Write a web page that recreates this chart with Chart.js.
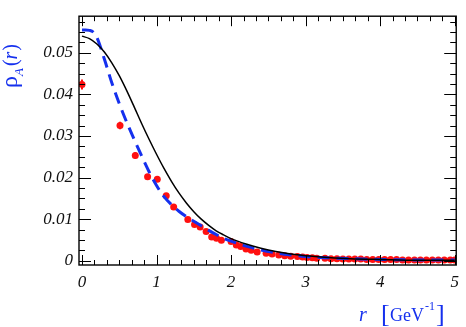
<!DOCTYPE html>
<html>
<head>
<meta charset="utf-8">
<script src="https://cdn.jsdelivr.net/npm/chart.js@4.4.1/dist/chart.umd.min.js"></script>
<style>
  html,body{margin:0;padding:0;background:#fff;}
  #wrap{width:466px;height:327px;}
</style>
</head>
<body>
<div id="wrap"><canvas id="chart"></canvas></div>
<script>
/* ---------- data ---------- */
const xTicks = [0, 1, 2, 3, 4, 5];
const yTicks = [0, 0.01, 0.02, 0.03, 0.04, 0.05];
const xMinorDiv = 6;
const yMinorDiv = 4;

// lattice points (red, with errors)
const dataR = [0, 0.51, 0.715, 0.88, 1.01, 1.13, 1.23, 1.42, 1.51, 1.585, 1.665, 1.74, 1.805, 1.87,
  2.0, 2.07, 2.13, 2.20, 2.27, 2.35, 2.47, 2.55, 2.64, 2.72, 2.80, 2.89, 2.96, 3.02, 3.09, 3.15, 3.26,
  3.34, 3.42, 3.50, 3.58, 3.66, 3.74, 3.82, 3.90, 3.98, 4.06, 4.14, 4.22, 4.30, 4.38, 4.46, 4.54,
  4.62, 4.70, 4.78, 4.86, 4.94, 5.0];
const dataRho = [0.0424, 0.0325, 0.0253, 0.0202, 0.0196, 0.0156, 0.0129, 0.0099, 0.0087, 0.0081, 0.0070, 0.0057, 0.0054, 0.0049,
  0.0046, 0.0038, 0.0034, 0.0028, 0.0025, 0.0021, 0.0018, 0.0016, 0.0014, 0.0012, 0.0011, 0.0010, 0.0009, 0.0008, 0.0007, 0.0006, 0.0006,
  0.0005, 0.0005, 0.0004, 0.0004, 0.0004, 0.0004, 0.0003, 0.0003, 0.0003, 0.0003, 0.0003, 0.0003, 0.0002, 0.0002, 0.0002, 0.0002,
  0.0002, 0.0002, 0.0002, 0.0002, 0.0002, 0.0002];
const dataErr = [0.0012, 0.0009, 0.0008, 0.0004, 0.0004, 0.0003, 0.0003, 0.0003, 0.0003, 0.0003, 0.0003, 0.0003, 0.0003, 0.0003,
  0.0002, 0.0002, 0.0002, 0.0002, 0.0002, 0.0002, 0.0002, 0.0002, 0.0002, 0.0002, 0.0002, 0.0002, 0.0002, 0.0002, 0.0002, 0.0002, 0.0002,
  0.0002, 0.0002, 0.0002, 0.0002, 0.0002, 0.0002, 0.0002, 0.0002, 0.0002, 0.0002, 0.0002, 0.0002, 0.0002, 0.0002, 0.0002, 0.0002,
  0.0002, 0.0002, 0.0002, 0.0002, 0.0002, 0.0002];

// solid black model curve
const solidR   = [0, 0.1, 0.2, 0.3, 0.4, 0.5, 0.6, 0.7, 0.8, 0.9, 1.0, 1.1, 1.2, 1.3, 1.4, 1.5, 1.6, 1.7, 1.8, 1.9,
  2.0, 2.2, 2.4, 2.6, 2.8, 3.0, 3.3, 3.6, 4.0, 4.5, 5.0];
const solidRho = [0.0540, 0.0534, 0.0521, 0.0502, 0.0476, 0.0445, 0.0409, 0.0370, 0.0330, 0.0292, 0.0256, 0.0222, 0.0191, 0.0163, 0.0139, 0.0118, 0.0100, 0.0085, 0.0072, 0.0062,
  0.0053, 0.0040, 0.0030, 0.0022, 0.0016, 0.0012, 0.0008, 0.0005, 0.0003, 0.0001, 0.0001];

// dashed blue model curve
const dashR   = [0, 0.05, 0.1, 0.15, 0.2, 0.3, 0.4, 0.5, 0.6, 0.7, 0.8, 0.9, 1.0, 1.1, 1.2, 1.3, 1.4, 1.5, 1.6, 1.7, 1.8, 1.9,
  2.0, 2.2, 2.4, 2.6, 2.8, 3.0, 3.3, 3.6, 4.0, 4.5, 5.0];
const dashRho = [0.0555, 0.0555, 0.0554, 0.0550, 0.0537, 0.0485, 0.0428, 0.0378, 0.0333, 0.0292, 0.0252, 0.0214, 0.0181, 0.0154, 0.0135, 0.0119, 0.0106, 0.0095, 0.0084, 0.0073, 0.0063, 0.0054,
  0.0047, 0.0035, 0.0026, 0.0019, 0.0014, 0.0010, 0.0007, 0.0005, 0.0003, 0.0002, 0.0002];

const BLUE = '#1530ee';
const RED = '#ff1010';
const tickFont = { family: "'Liberation Serif', 'DejaVu Serif', serif", size: 17, style: 'italic' };

const toXY = (xs, ys) => xs.map((v, i) => ({ x: v, y: ys[i] }));

/* ---------- error bars ---------- */
const errorBars = {
  id: 'errorBars',
  beforeDatasetsDraw(chart){
    const { ctx, scales:{ x, y } } = chart;
    ctx.save();
    ctx.strokeStyle = RED;
    ctx.lineWidth = 2;
    ctx.beginPath();
    dataR.forEach((r, i) => {
      const px = x.getPixelForValue(r);
      ctx.moveTo(px, y.getPixelForValue(dataRho[i] - dataErr[i]));
      ctx.lineTo(px, y.getPixelForValue(dataRho[i] + dataErr[i]));
    });
    ctx.stroke();
    ctx.restore();
  }
};

/* ---------- frame + inward ticks (ROOT style) ---------- */
const frameTicks = {
  id: 'frameTicks',
  afterDatasetsDraw(chart){
    const { ctx, chartArea:a, scales:{ x, y } } = chart;
    ctx.save();
    ctx.strokeStyle = '#000';
    ctx.lineWidth = 1.4;
    ctx.strokeRect(a.left, a.top, a.right - a.left, a.bottom - a.top);

    ctx.lineWidth = 1;
    ctx.beginPath();
    const xStep = (xTicks[1] - xTicks[0]) / xMinorDiv;
    for (let v = xTicks[0], k = 0; v <= x.max + 1e-9; k++, v = xTicks[0] + k * xStep){
      const px = Math.round(x.getPixelForValue(v)) + 0.5;
      const len = (k % xMinorDiv === 0) ? 10 : 5;
      ctx.moveTo(px, a.bottom); ctx.lineTo(px, a.bottom - len);
      ctx.moveTo(px, a.top);    ctx.lineTo(px, a.top + len);
    }
    const yStep = (yTicks[1] - yTicks[0]) / yMinorDiv;
    for (let v = yTicks[0], k = 0; v <= y.max + 1e-12; k++, v = yTicks[0] + k * yStep){
      const py = Math.round(y.getPixelForValue(v)) + 0.5;
      const len = (k % yMinorDiv === 0) ? 12 : 6;
      ctx.moveTo(a.left, py);  ctx.lineTo(a.left + len, py);
      ctx.moveTo(a.right, py); ctx.lineTo(a.right - len, py);
    }
    ctx.stroke();
    ctx.restore();
  },
  afterDraw(chart){
    const { ctx } = chart;
    ctx.save();
    ctx.fillStyle = BLUE;
    ctx.textBaseline = 'alphabetic';

    // y title: rho_A(r), rotated
    ctx.translate(17, 88);
    ctx.rotate(-Math.PI / 2);
    let cx = 0;
    ctx.font = "24px 'Liberation Serif', serif";
    ctx.fillText('\u03C1', cx, 0);
    cx += ctx.measureText('\u03C1').width;
    ctx.font = "italic 13px 'Liberation Serif', serif";
    ctx.fillText('A', cx, 6);
    cx += ctx.measureText('A').width + 2;
    ctx.font = "20px 'Liberation Serif', serif";
    ctx.fillText('(', cx, 0);
    cx += ctx.measureText('(').width;
    ctx.font = "italic 20px 'Liberation Serif', serif";
    ctx.fillText('r', cx, 0);
    cx += ctx.measureText('r').width + 1;
    ctx.font = "20px 'Liberation Serif', serif";
    ctx.fillText(')', cx, 0);
    ctx.setTransform(1, 0, 0, 1, 0, 0);

    // x title: r [GeV^-1]
    ctx.font = "italic 20px 'Liberation Serif', serif";
    ctx.fillText('r', 359, 321);
    ctx.font = "26px 'Liberation Serif', serif";
    ctx.fillText('[', 381, 322);
    ctx.font = "18px 'Liberation Serif', serif";
    ctx.fillText('GeV', 390, 321);
    let gx = 390 + ctx.measureText('GeV').width + 1;
    ctx.font = "12px 'Liberation Serif', serif";
    ctx.fillText('-1', gx, 310);
    gx += ctx.measureText('-1').width + 1;
    ctx.font = "26px 'Liberation Serif', serif";
    ctx.fillText(']', gx, 322);
    ctx.restore();
  }
};

new Chart(document.getElementById('chart'), {
  type: 'scatter',
  data: {
    datasets: [
      {
        label: 'solid',
        data: toXY(solidR, solidRho),
        showLine: true,
        borderColor: '#000',
        borderWidth: 1.5,
        pointRadius: 0,
        cubicInterpolationMode: 'monotone',
        order: 1
      },
      {
        label: 'dashed',
        data: toXY(dashR, dashRho),
        showLine: true,
        borderColor: BLUE,
        borderWidth: 3,
        borderDash: [12, 7],
        pointRadius: 0,
        cubicInterpolationMode: 'monotone',
        order: 2
      },
      {
        label: 'lattice',
        data: toXY(dataR, dataRho),
        showLine: false,
        backgroundColor: RED,
        borderColor: RED,
        borderWidth: 0,
        pointRadius: 3.5,
        order: 3
      }
    ]
  },
  options: {
    responsive: true,
    maintainAspectRatio: false,
    animation: false,
    devicePixelRatio: 1,
    layout: { padding: { left: 0, right: 5, top: 3, bottom: 0 } },
    plugins: { legend: { display: false }, tooltip: { enabled: false } },
    scales: {
      x: {
        type: 'linear',
        min: -0.04,
        max: 5.02,
        grid: { display: false, drawTicks: false },
        border: { display: false },
        afterBuildTicks: s => { s.ticks = xTicks.map(v => ({ value: v })); },
        afterFit: s => { s.height = 62; },
        ticks: {
          font: tickFont, color: '#111', padding: 7,
          autoSkip: false, maxRotation: 0,
          callback: v => String(v)
        }
      },
      y: {
        type: 'linear',
        min: -0.00103,
        max: 0.0588,
        grid: { display: false, drawTicks: false },
        border: { display: false },
        afterBuildTicks: s => { s.ticks = yTicks.map(v => ({ value: v })); },
        afterFit: s => { s.width = 79; },
        ticks: {
          font: tickFont, color: '#111', padding: 6,
          autoSkip: false,
          callback: v => v === 0 ? '0' : v.toFixed(2)
        }
      }
    }
  },
  plugins: [errorBars, frameTicks]
});
</script>
</body>
</html>
